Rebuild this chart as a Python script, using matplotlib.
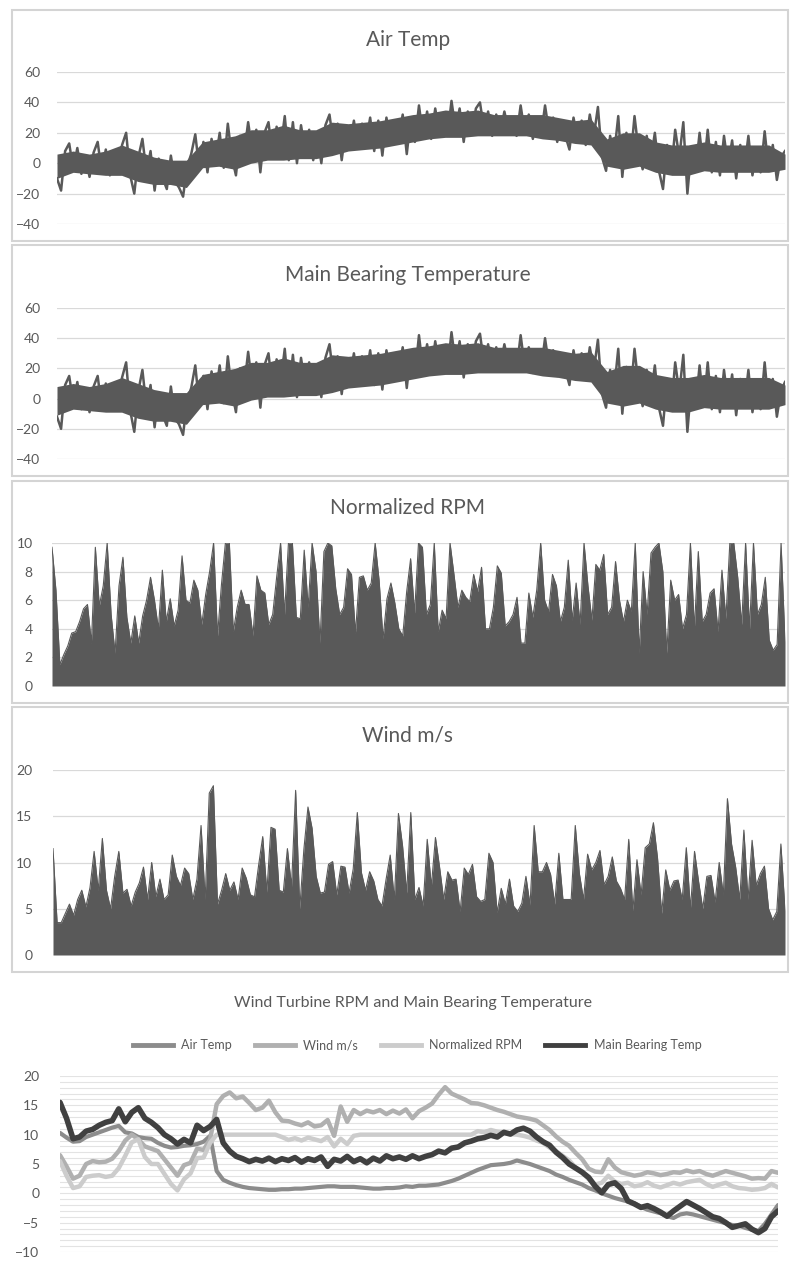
import matplotlib
matplotlib.use("Agg")
import matplotlib.pyplot as plt
import numpy as np
from matplotlib.patches import Rectangle
from matplotlib.lines import Line2D

plt.rcParams['font.family'] = ['Lato', 'DejaVu Sans']

# ---- daily panels ----
air_temp = [-10, -18, 8, 13, -4, 10, -7, 5, -9, 7, 14, -6, 9, -8, 6, -3, 12, 20, -8, -20,
            4, 16, -6, 8, -18, 3, -10, -17, 5, -12, -16, -22, -2, 6, 19, -4, 14, -6, 16, 2,
            20, -3, 26, 4, -8, 18, 6, 27, 8, 22, -6, 20, 27, 5, 24, 10, 31, 2, 27, 0,
            25, 8, 22, 2, 18, 0, 25, 32, 12, 26, 2, 22, 12, 28, 10, 26, 14, 30, 8, 28,
            5, 30, 14, 28, 16, 32, 6, 30, 14, 38, 18, 34, 16, 36, 20, 33, 18, 41, 22, 36,
            14, 34, 20, 36, 40, 22, 34, 18, 32, 20, 34, 22, 30, 18, 38, 20, 32, 16, 30, 18,
            38, 20, 30, 14, 28, 18, 9, 30, 16, 28, 12, 32, 18, 37, 4, -5, 18, 6, 31, -9,
            20, 2, 31, 8, -4, 18, 2, 20, -5, -17, 12, -6, 22, 4, 27, -20, 10, -5, 20, -4,
            22, -6, 14, -8, 18, -2, 15, -10, 12, -4, 18, -8, 10, -6, 21, -5, 12, -11, 4, 8]
# solid body of the air temp band
air_core_hi = [6, 8, 6, 8, 12, 8, 4, 2, 2, 14, 16, 18, 22, 22, 25, 22, 22, 27, 26, 27,
               28, 30, 32, 33, 35, 34, 35, 32, 32, 32, 32, 30, 28, 29, 16, 20, 20, 14, 12, 12,
               14, 12, 12, 12, 12, 6]
air_core_lo = [-10, -6, -7, -8, -8, -12, -14, -14, -16, -3, -2, -4, 0, 2, 2, 3, 3, 5, 8, 9,
               10, 12, 14, 16, 17, 17, 18, 18, 18, 18, 16, 15, 13, 12, -2, -4, -2, -6, -8, -8,
               -5, -6, -6, -6, -6, -4]

bearing_temp = [-12, -20, 9, 15, -3, 11, -7, 6, -9, 8, 15, -6, 10, -8, 7, -3, 14, 24, -8, -22,
                5, 19, -6, 9, -19, 4, -11, -18, 8, -13, -17, -24, -1, 7, 22, -5, 15, -7, 18, 3,
                22, -3, 28, 5, -9, 20, 7, 31, 9, 24, -6, 22, 30, 6, 26, 11, 33, 2, 29, 1,
                27, 9, 24, 3, 20, 1, 27, 36, 13, 28, 3, 24, 13, 30, 11, 28, 15, 32, 9, 30,
                6, 32, 15, 30, 17, 34, 7, 32, 15, 42, 19, 36, 17, 38, 21, 35, 19, 44, 23, 38,
                14, 36, 21, 38, 43, 23, 36, 19, 34, 21, 36, 23, 32, 19, 42, 21, 34, 17, 32, 19,
                40, 21, 32, 15, 30, 19, 9, 32, 17, 30, 13, 34, 19, 39, 3, -6, 19, 6, 33, -10,
                21, 2, 33, 8, -5, 19, 2, 22, -6, -18, 13, -7, 24, 4, 29, -22, 11, -6, 22, -5,
                24, -7, 15, -9, 19, -3, 16, -11, 13, -5, 19, -9, 11, -7, 24, -6, 13, -12, 5, 11]
bearing_core_hi = [8, 10, 8, 10, 14, 10, 6, 4, 4, 16, 18, 20, 24, 24, 27, 24, 24, 29, 28, 29,
                   30, 32, 34, 35, 37, 36, 37, 34, 34, 34, 34, 32, 30, 31, 18, 22, 22, 16, 14, 14,
                   16, 14, 14, 14, 14, 9]
bearing_core_lo = [-11, -7, -8, -9, -9, -13, -15, -15, -17, -4, -3, -5, -1, 1, 1, 2, 2, 4, 7, 8,
                   9, 11, 13, 15, 16, 16, 17, 17, 17, 17, 15, 14, 12, 11, -3, -5, -3, -7, -9, -9,
                   -6, -7, -7, -7, -7, -4]

rpm_peaks = [9.7, 6.7, 1.5, 2.2, 2.8, 3.7, 3.8, 4.5, 5.4, 5.7, 3.0, 9.7, 5.6, 7.0, 10, 5.0,
             2.3, 7.0, 9.0, 4.8, 3.0, 4.9, 3.0, 4.9, 6.0, 7.6, 6.0, 4.0, 8.1, 4.5, 6.1, 4.2,
             5.3, 9.1, 6.0, 5.8, 7.4, 6.7, 4.3, 6.4, 8.0, 10, 3.5, 7.1, 10, 10, 3.8, 5.5,
             6.7, 5.7, 5.7, 3.5, 7.7, 6.7, 6.5, 4.3, 5.0, 7.6, 10, 5.0, 10, 10, 4.8, 4.7,
             9.5, 5.5, 10, 8.0, 3.0, 9.4, 10, 9.8, 6.8, 5.0, 5.5, 8.2, 7.8, 3.7, 7.6, 7.7,
             6.7, 7.2, 10, 7.4, 3.3, 6.1, 7.2, 5.8, 4.0, 3.5, 6.6, 8.9, 5.1, 10, 9.7, 5.0,
             5.7, 10, 3.8, 5.3, 4.7, 10, 7.8, 5.5, 6.7, 6.2, 5.9, 7.8, 6.6, 8.3, 4.0, 4.0,
             5.5, 8.4, 7.9, 4.2, 4.5, 5.0, 6.2, 3.0, 3.0, 6.5, 4.8, 6.7, 10, 6.0, 5.2, 7.8,
             7.0, 4.5, 5.5, 8.8, 4.6, 7.2, 4.3, 10, 7.0, 4.6, 8.5, 8.1, 9.2, 5.0, 5.5, 8.7,
             6.0, 4.5, 6.0, 5.2, 10, 2.3, 8.0, 5.0, 9.3, 9.7, 10, 8.0, 2.3, 7.4, 6.0, 6.4,
             4.0, 5.0, 10, 4.0, 9.4, 4.5, 5.0, 6.5, 6.8, 3.8, 8.1, 4.7, 10, 10, 7.6, 4.3,
             10, 4.0, 10, 5.0, 5.7, 7.6, 3.2, 2.5, 2.9, 10, 3.1]

wind_peaks = [11.5, 3.5, 3.5, 4.5, 5.5, 4.3, 6.0, 7.0, 5.2, 7.3, 11.2, 7.0, 12.6, 7.0, 5.0, 8.5,
              11.2, 6.7, 7.1, 5.3, 6.8, 7.8, 9.5, 6.0, 10.0, 6.3, 8.2, 6.0, 6.5, 10.8, 8.5, 7.5,
              9.4, 8.8, 6.0, 8.2, 14.0, 6.0, 17.5, 18.3, 5.5, 7.0, 8.8, 7.0, 7.9, 6.0, 9.4, 8.3,
              6.5, 6.3, 9.7, 12.8, 6.8, 13.8, 13.6, 7.0, 6.8, 11.5, 7.4, 17.8, 5.0, 11.4, 16.0, 13.7,
              8.5, 6.7, 6.8, 9.8, 10.1, 6.5, 9.6, 9.5, 6.7, 9.3, 15.4, 8.9, 7.0, 9.0, 8.0, 6.0,
              5.3, 8.2, 10.8, 6.0, 15.3, 11.8, 6.7, 15.4, 6.0, 7.3, 5.3, 12.5, 7.4, 12.7, 9.5, 6.0,
              9.0, 8.1, 8.2, 4.7, 9.4, 8.7, 9.8, 6.3, 5.8, 6.0, 11.0, 10.0, 4.6, 7.2, 5.5, 8.2,
              5.3, 4.7, 5.6, 8.5, 5.4, 14.0, 9.0, 9.0, 10.0, 8.7, 5.5, 11.0, 6.0, 6.0, 6.0, 14.0,
              8.8, 6.0, 10.9, 9.2, 10.0, 11.3, 7.6, 8.5, 10.6, 8.0, 7.2, 6.0, 12.5, 4.8, 10.3, 6.5,
              11.6, 12.0, 14.3, 10.5, 4.5, 9.2, 7.0, 8.0, 8.1, 6.0, 11.6, 5.0, 11.2, 7.9, 5.0, 8.5,
              8.6, 5.7, 10.0, 6.5, 16.9, 12.0, 9.5, 6.0, 13.5, 6.0, 12.4, 7.5, 8.8, 9.6, 5.0, 3.8,
              4.7, 12.0, 4.8]

# ---- smoothed comparison chart ----
smooth_air = [10.3, 9.5, 8.8, 8.9, 9.6, 10.0, 10.4, 10.8, 11.2, 11.5, 10.4, 10.2, 9.6, 9.4, 9.3, 8.6,
              8.1, 7.8, 7.9, 8.1, 8.2, 8.4, 8.8, 9.8, 3.8, 2.3, 1.8, 1.4, 1.1, 0.9, 0.8, 0.7,
              0.6, 0.6, 0.7, 0.7, 0.8, 0.8, 0.9, 1.0, 1.1, 1.2, 1.2, 1.1, 1.1, 1.1, 1.0, 0.9,
              0.8, 0.8, 0.9, 0.9, 1.0, 1.2, 1.1, 1.3, 1.3, 1.4, 1.5, 1.8, 2.1, 2.5, 3.0, 3.5,
              4.0, 4.4, 4.8, 4.9, 5.0, 5.2, 5.6, 5.3, 5.0, 4.6, 4.2, 3.8, 3.2, 2.8, 2.3, 1.9,
              1.5, 0.9, 0.5, 0.0, -0.4, -0.8, -1.1, -1.4, -1.7, -2.3, -2.8, -3.1, -3.4, -3.9, -4.2, -3.6,
              -3.4, -3.6, -3.9, -4.2, -4.5, -4.8, -5.1, -5.4, -5.5, -5.9, -6.2, -6.4, -5.2, -3.6, -2.0]

smooth_wind = [6.5, 4.6, 2.5, 3.0, 5.0, 5.5, 5.3, 5.4, 5.9, 7.2, 9.0, 10.0, 9.2, 8.0, 7.6, 7.2,
               5.8, 4.4, 3.0, 4.8, 5.2, 7.6, 7.4, 9.2, 15.2, 16.6, 17.2, 16.2, 16.5, 15.4, 14.2, 14.6,
               15.8, 13.8, 12.4, 12.3, 11.9, 11.6, 12.1, 11.4, 11.6, 12.5, 9.8, 14.8, 12.2, 14.2, 13.5, 14.1,
               13.8, 14.2, 13.5, 14.1, 13.6, 14.3, 12.8, 14.0, 14.6, 15.3, 16.8, 18.1, 17.0, 16.5, 16.0, 15.4,
               15.3, 15.0, 14.6, 14.2, 13.9, 13.5, 13.1, 12.9, 12.7, 12.4, 11.6, 10.8, 9.7, 8.8, 8.1, 6.9,
               5.8, 4.2, 3.7, 3.6, 5.8, 4.4, 3.6, 3.3, 3.0, 3.2, 3.6, 3.4, 3.1, 3.3, 3.6, 3.5,
               3.9, 3.6, 3.8, 3.3, 3.0, 3.4, 3.8, 3.5, 3.2, 2.9, 2.5, 2.6, 2.5, 3.8, 3.5]

smooth_rpm = [5.5, 3.0, 0.9, 1.2, 2.8, 3.0, 3.1, 2.8, 3.0, 4.3, 6.4, 8.7, 9.2, 6.2, 5.0, 5.0,
              3.3, 1.6, 0.5, 2.4, 3.4, 6.0, 6.1, 8.6, 10.0, 10.0, 10.0, 10.0, 10.0, 10.0, 10.0, 10.0,
              10.0, 10.0, 9.6, 9.1, 9.4, 9.0, 9.5, 9.2, 8.9, 9.6, 8.0, 9.3, 8.4, 9.8, 10.0, 10.0,
              10.0, 10.0, 10.0, 10.0, 10.0, 10.0, 10.0, 10.0, 10.0, 10.0, 10.0, 10.0, 10.0, 10.0, 10.0, 10.0,
              10.6, 10.4, 10.8, 10.5, 10.3, 10.1, 10.0, 9.8, 9.5, 9.0, 8.6, 7.8, 7.2, 6.4, 5.6, 4.4,
              3.5, 2.4, 1.5, 1.8, 3.0, 2.0, 1.6, 1.8, 1.2, 1.4, 1.9, 1.3, 1.0, 1.4, 1.8, 1.5,
              1.9, 2.1, 2.3, 1.6, 1.1, 1.5, 1.8, 1.2, 0.9, 0.8, 0.6, 0.7, 0.9, 1.6, 1.0]

smooth_bearing = [15.5, 12.8, 9.3, 9.6, 10.6, 10.9, 11.6, 12.1, 12.4, 14.4, 12.2, 13.8, 14.6, 12.8, 12.1, 11.2,
                  10.0, 9.3, 8.4, 9.2, 8.6, 11.6, 10.7, 11.4, 12.6, 8.6, 7.2, 6.3, 5.9, 5.4, 5.8, 5.5,
                  6.0, 5.4, 5.9, 5.6, 6.1, 5.3, 5.9, 5.6, 6.2, 4.6, 5.8, 5.5, 6.3, 5.4, 5.9, 5.2,
                  6.0, 5.5, 6.4, 5.9, 6.2, 5.8, 6.4, 5.9, 6.3, 6.6, 7.2, 6.9, 7.7, 7.9, 8.6, 8.9,
                  9.3, 9.5, 9.9, 9.6, 10.4, 10.1, 10.8, 11.1, 10.6, 9.6, 8.8, 8.2, 7.0, 6.1, 5.0, 4.3,
                  3.6, 2.7, 1.2, 0.1, 1.5, 1.8, 0.8, -1.3, -1.8, -2.4, -2.1, -2.6, -3.2, -3.9, -3.0, -2.2,
                  -1.4, -2.0, -2.6, -3.3, -4.0, -4.3, -5.0, -5.8, -5.5, -5.2, -6.1, -6.7, -6.0, -4.0, -3.0]

legend_names = ["Air Temp", "Wind m/s", "Normalized RPM", "Main Bearing Temp"]
legend_colors = ["#8c8c8c", "#b0b0b0", "#cccccc", "#404040"]

W, H = 790, 1261
DARK = "#595959"
GRID = "#d9d9d9"

fig = plt.figure(figsize=(W / 100, H / 100), dpi=100)


def frame(y0, y1):
    fig.patches.append(Rectangle((12 / W, 1 - y1 / H), (788 - 12) / W, (y1 - y0) / H,
                                 transform=fig.transFigure, fill=False,
                                 ec="#d4d4d4", lw=1.5))


def px_axes(x0, x1, y0, y1):
    return fig.add_axes([x0 / W, 1 - y1 / H, (x1 - x0) / W, (y1 - y0) / H])


def style(ax, ticks, n, pad=12):
    ax.set_ylim(ticks[0], ticks[-1])
    ax.set_yticks(ticks)
    ax.set_xlim(0, n - 1)
    ax.set_xticks([])
    ax.grid(axis="y", color=GRID, lw=0.9)
    ax.set_axisbelow(True)
    for s in ax.spines.values():
        s.set_visible(False)
    ax.tick_params(axis="y", length=0, pad=pad, labelsize=10, labelcolor=DARK)


def band(ax, vals, core_lo, core_hi):
    n = len(vals)
    xc = np.linspace(0, n - 1, len(core_hi))
    ax.fill_between(xc, core_lo, core_hi, color=DARK, lw=0)
    ax.plot(np.arange(n), vals, color=DARK, lw=1.8)


# panel 1: air temp
frame(10, 241)
ax1 = px_axes(57, 785, 72, 224)
band(ax1, air_temp, air_core_lo, air_core_hi)
style(ax1, [-40, -20, 0, 20, 40, 60], len(air_temp))
fig.text(408 / W, 1 - 40 / H, "Air Temp", ha="center", va="center", fontsize=15, color=DARK)

# panel 2: main bearing
frame(245, 476)
ax2 = px_axes(57, 785, 308, 459)
band(ax2, bearing_temp, bearing_core_lo, bearing_core_hi)
style(ax2, [-40, -20, 0, 20, 40, 60], len(bearing_temp))
fig.text(408 / W, 1 - 275 / H, "Main Bearing Temperature", ha="center", va="center",
         fontsize=15, color=DARK)

# panel 3: normalized rpm
frame(481, 703)
ax3 = px_axes(52, 785, 543, 686)
x = np.arange(len(rpm_peaks))
ax3.fill_between(x, 0, rpm_peaks, color=DARK, lw=0)
ax3.plot(x, rpm_peaks, color=DARK, lw=0.8)
style(ax3, [0, 2, 4, 6, 8, 10], len(rpm_peaks), pad=14)
fig.text(408 / W, 1 - 508 / H, "Normalized RPM", ha="center", va="center", fontsize=15, color=DARK)

# panel 4: wind
frame(707, 972)
ax4 = px_axes(53, 785, 770, 955)
x = np.arange(len(wind_peaks))
ax4.fill_between(x, 0, wind_peaks, color=DARK, lw=0)
ax4.plot(x, wind_peaks, color=DARK, lw=0.8)
style(ax4, [0, 5, 10, 15, 20], len(wind_peaks), pad=15)
fig.text(408 / W, 1 - 736 / H, "Wind m/s", ha="center", va="center", fontsize=15, color=DARK)

# bottom: smoothed comparison
ax5 = px_axes(60, 778, 1076, 1252)
x = np.arange(len(smooth_bearing))
series = [smooth_air, smooth_wind, smooth_rpm, smooth_bearing]
widths = [3.0, 3.2, 3.2, 4.0]
for vals, c, lw in zip(series, legend_colors, widths):
    ax5.plot(x, vals, color=c, lw=lw, solid_capstyle="round", solid_joinstyle="round")
ax5.set_ylim(-10, 20)
ax5.set_yticks([-10, -5, 0, 5, 10, 15, 20])
ax5.set_yticks(np.arange(-10, 21, 1), minor=True)
ax5.set_xlim(0, len(smooth_bearing) - 1)
ax5.set_xticks([])
ax5.grid(axis="y", which="both", color="#e3e3e3", lw=0.8)
ax5.set_axisbelow(True)
for s in ax5.spines.values():
    s.set_visible(False)
ax5.tick_params(axis="y", which="both", length=0, pad=15, labelsize=10, labelcolor=DARK)

fig.text(413 / W, 1 - 1003 / H, "Wind Turbine RPM and Main Bearing Temperature",
         ha="center", va="center", fontsize=11.5, color=DARK)
handles = [Line2D([], [], color=c, lw=3.5) for c in legend_colors]
fig.legend(handles, legend_names, loc="center", bbox_to_anchor=(417 / W, 1 - 1045 / H),
           ncol=4, frameon=False, fontsize=9, labelcolor=DARK, handlelength=3.2,
           columnspacing=1.8, handletextpad=0.7)

fig.savefig("out.png", dpi=100, facecolor="white")
